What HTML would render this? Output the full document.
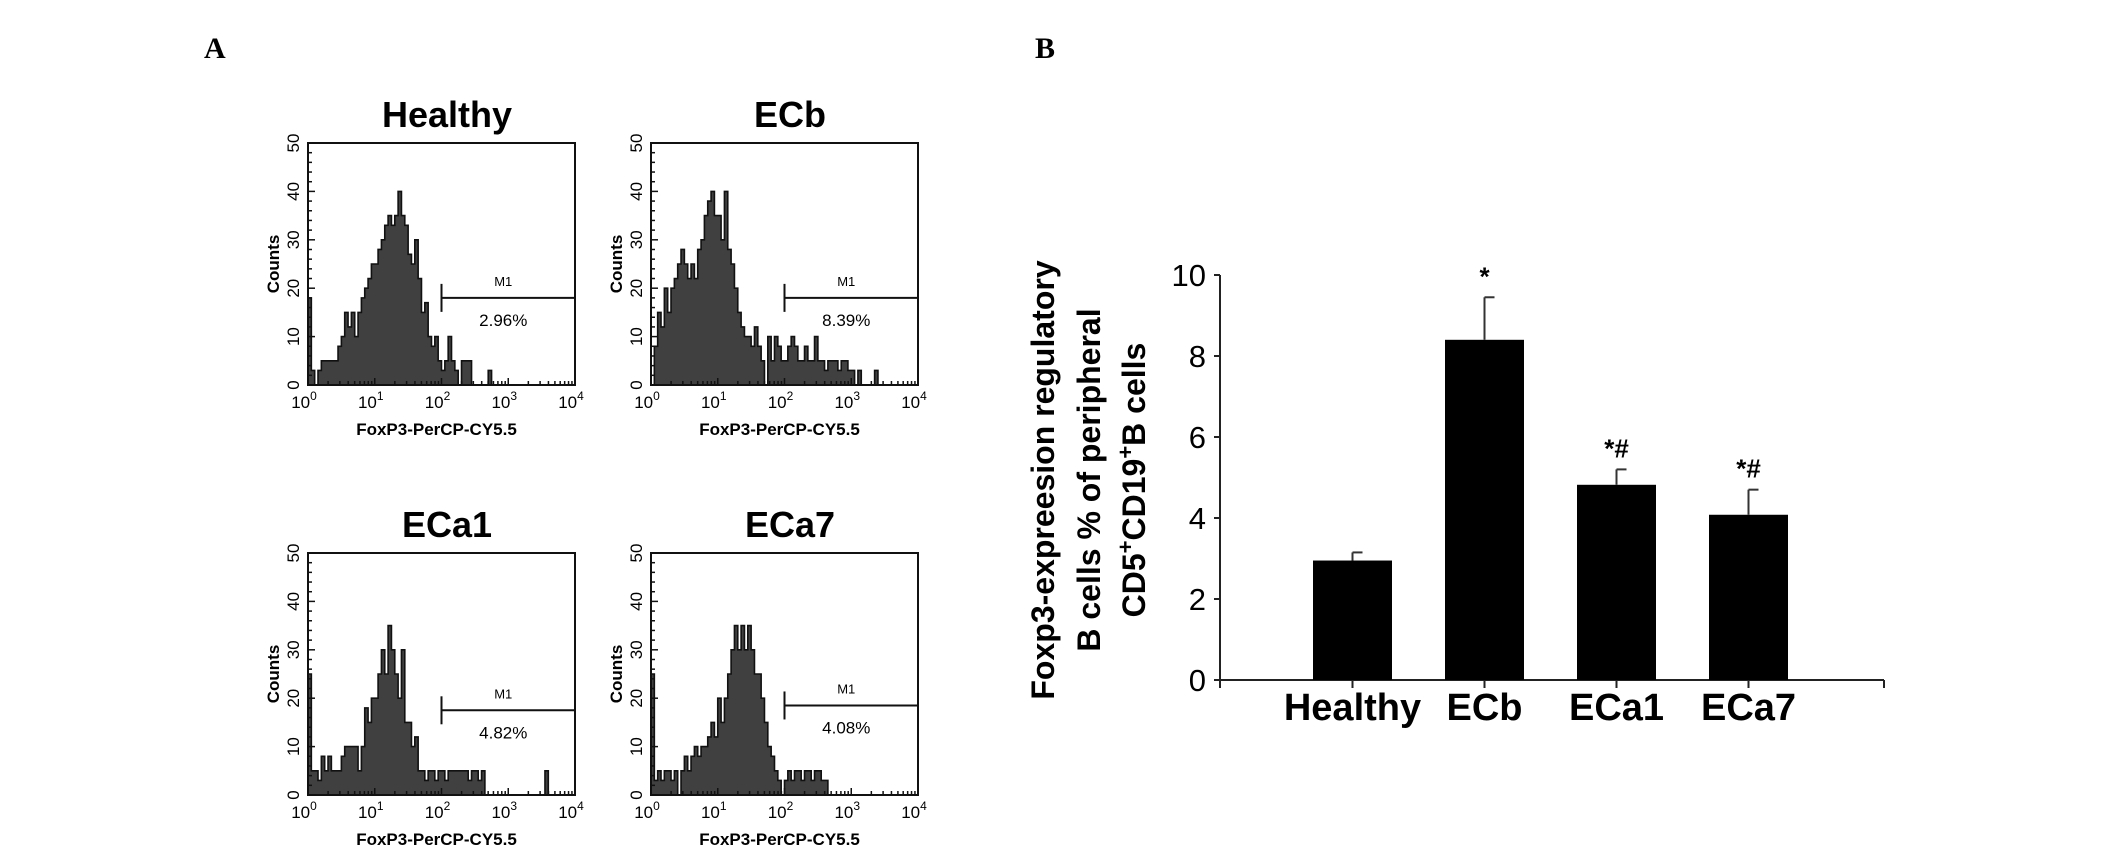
<!DOCTYPE html>
<html><head><meta charset="utf-8"><style>
html,body{margin:0;padding:0;background:#fff;}
svg{display:block;}
text{font-family:"Liberation Sans",Arial,sans-serif;}
.nar{font-family:"Liberation Sans Narrow","Liberation Sans",sans-serif;}
</style></head><body>
<svg id="fig" width="2126" height="862" viewBox="0 0 2126 862" xmlns="http://www.w3.org/2000/svg">
<text x="204" y="58" font-family="Liberation Serif,serif" font-weight="bold" font-size="30" style="font-family:'Liberation Serif',serif">A</text>
<text x="1035" y="58" font-weight="bold" font-size="30" style="font-family:'Liberation Serif',serif">B</text>
<g id="hists"></g>
<g id="bars"></g>
</svg>
<script>
// ---------- Histogram data (20 bins per decade, 10^0..10^4) ----------
const histTitles = ["Healthy","ECb","ECa1","ECa7"];
const histPercents = ["2.96%","8.39%","4.82%","4.08%"];
const healthyCounts = [18,3,0,3,5,5,5,5,5,8,10,15,12,15,10,15,18,20,22,25,
  25,28,30,33,35,33,35,40,35,33,27,25,30,22,15,17,10,8,10,5,
  3,5,10,5,3,0,5,5,5,0,0,0,0,0,3,0,0,0,0,0,
  0,0,0,0,0,0,0,0,0,0,0,0,0,0,0,0,0,0,0,0];
const ecbCounts = [0,8,15,12,20,15,20,22,25,28,25,22,25,22,28,30,35,38,40,35,
  35,30,40,28,25,20,15,12,10,10,8,12,8,5,0,10,5,10,8,5,
  5,8,10,8,5,5,8,5,5,10,5,5,3,5,5,5,3,5,5,3,
  3,0,3,0,0,0,0,3,0,0,0,0,0,0,0,0,0,0,0,0];
const eca1Counts = [25,5,5,3,8,5,8,5,5,5,8,10,10,10,10,5,10,18,15,20,
  20,25,30,25,35,30,25,20,30,15,15,10,12,5,5,3,5,5,3,5,
  5,3,5,5,5,5,5,5,3,5,5,3,5,0,0,0,0,0,0,0,
  0,0,0,0,0,0,0,0,0,0,0,5,0,0,0,0,0,0,0,0];
const eca7Counts = [25,3,5,3,5,5,3,5,0,5,8,5,8,10,8,10,10,12,15,12,
  20,15,20,25,30,35,30,35,30,35,30,25,25,20,15,10,8,5,3,0,
  3,5,3,5,5,3,5,5,3,5,5,3,3,0,0,0,0,0,0,0,
  0,0,0,0,0,0,0,0,0,0,0,0,0,0,0,0,0,0,0,0];
const histSeries = [healthyCounts, ecbCounts, eca1Counts, eca7Counts];
const histYTicks = [0,10,20,30,40,50];
const histXTicks = [0,1,2,3,4];
const markerCounts = [18,18,17.5,18.5];

// ---------- Bar chart data ----------
const barCategories = ["Healthy","ECb","ECa1","ECa7"];
const barValues = [2.95,8.4,4.82,4.08];
const barErrors = [0.2,1.05,0.38,0.62];
const barMarks = ["","*","*#","*#"];
const barYTicks = [0,2,4,6,8,10];

const NS="http://www.w3.org/2000/svg";
function mk(tag,attrs,parent,txt){const e=document.createElementNS(NS,tag);for(const k in attrs)e.setAttribute(k,attrs[k]);if(txt!==undefined)e.textContent=txt;parent.appendChild(e);return e;}

const hg=document.getElementById('hists');
const boxes=[[308,143],[651,143],[308,553],[651,553]];
const BW=267,BH=242,BINS=80;
histSeries.forEach((counts,i)=>{
  const [bx,by]=boxes[i];
  const g=mk('g',{},hg);
  
  
  const xs=d=>bx+d/4*BW;
  const ys=c=>by+BH-c/50*BH;
  const t=mk('text',{x:bx+139,y:by-16,'text-anchor':'middle','font-size':36,'font-weight':'bold'},g,histTitles[i]);
  
  
  // histogram step path
  let d='M'+xs(0)+','+ys(0);
  counts.forEach((c,k)=>{const x0=xs(k*4/BINS),x1=xs((k+1)*4/BINS);d+=' L'+x0+','+ys(c)+' L'+x1+','+ys(c);});
  d+=' L'+xs(4)+','+ys(0)+' Z';
  const p=mk('path',{d:d,fill:'#404040',stroke:'#111','stroke-width':1.6},g);
  
  
  const r=mk('rect',{x:bx,y:by,width:BW,height:BH,fill:'none',stroke:'#111','stroke-width':2},g);
  
  
  // y minor ticks
  for(let c=0;c<=50;c+=2){const L=c%10===0?7:4;mk('line',{x1:bx,x2:bx+L,y1:ys(c),y2:ys(c),stroke:'#111','stroke-width':1.5},g);}
  // x log ticks
  for(let dec=0;dec<4;dec++){for(let m=1;m<10;m++){const x=xs(dec+Math.log10(m));const L=m===1?7:4;mk('line',{x1:x,x2:x,y1:by+BH,y2:by+BH-L,stroke:'#111','stroke-width':1.5},g);}}
  histYTicks.forEach(v=>{const tt=mk('text',{x:0,y:0,'text-anchor':'middle','font-size':17,transform:'translate('+(bx-9)+','+ys(v)+') rotate(-90)'},g,String(v));});
  histXTicks.forEach(v=>{const tt=mk('text',{x:xs(v)-4,y:by+BH+23,'text-anchor':'middle','font-size':17,class:'nar'},g);mk('tspan',{},tt,'10');mk('tspan',{dy:-8,'font-size':12},tt,String(v));});
  const xt=mk('text',{x:bx+BW/2-5,y:by+BH+50,'text-anchor':'middle','font-size':17,'font-weight':'bold',class:'nar'},g,'FoxP3-PerCP-CY5.5');
  
  const yt=mk('text',{x:0,y:0,'text-anchor':'middle','font-size':17,'font-weight':'bold',transform:'translate('+(bx-29)+','+(by+BH/2)+') rotate(-90)'},g,'Counts');
  
  // M1 marker
  const my=ys(markerCounts[i]);
  const mg=mk('g',{stroke:'#111','stroke-width':2},g);
  
  mk('line',{x1:xs(2),x2:xs(4),y1:my,y2:my},mg);
  mk('line',{x1:xs(2),x2:xs(2),y1:my-14,y2:my+14},mg);
  const ml=mk('text',{x:xs(3)-5,y:my-12,'text-anchor':'middle','font-size':13,class:'nar'},g,'M1');
  
  const pl=mk('text',{x:xs(3)-5,y:my+28,'text-anchor':'middle','font-size':17,class:'nar'},g,histPercents[i]);
  
});

// ---------- Bar chart ----------
const bg=document.getElementById('bars');
const AX=1220,Y0=680,Y10=275,AXEND=1884;
const yv=v=>Y0-(v/10)*(Y0-Y10);
const BARW=79,FIRST=1313,STEP=132;
const xc=i=>FIRST+i*STEP+BARW/2;
const ax=mk('line',{x1:AX,x2:AX,y1:Y10,y2:Y0,stroke:'#222','stroke-width':2},bg);

const xa=mk('line',{x1:AX,x2:AXEND,y1:Y0,y2:Y0,stroke:'#222','stroke-width':2},bg);

mk('line',{x1:AXEND,x2:AXEND,y1:Y0,y2:Y0+8,stroke:'#222','stroke-width':2},bg);
mk('line',{x1:AX,x2:AX,y1:Y0,y2:Y0+8,stroke:'#222','stroke-width':2},bg);
barYTicks.forEach(v=>{
  mk('line',{x1:AX-6,x2:AX,y1:yv(v),y2:yv(v),stroke:'#222','stroke-width':2},bg);
  const t=mk('text',{x:AX-14,y:yv(v)+11,'text-anchor':'end','font-size':31,class:'nar'},bg,String(v));
  
});
barCategories.forEach((c,i)=>{
  const b=mk('rect',{x:FIRST+i*STEP,y:yv(barValues[i]),width:BARW,height:Y0-yv(barValues[i]),fill:'#000'},bg);
  
  mk('line',{x1:xc(i),x2:xc(i),y1:Y0,y2:Y0+8,stroke:'#222','stroke-width':2},bg);
  const top=yv(barValues[i]+barErrors[i]);
  const eg=mk('g',{stroke:'#333','stroke-width':2},bg);
  
  mk('line',{x1:xc(i),x2:xc(i),y1:yv(barValues[i]),y2:top},eg);
  mk('line',{x1:xc(i),x2:xc(i)+10,y1:top,y2:top},eg);
  if(barMarks[i]){const s=mk('text',{x:xc(i),y:top-12,'text-anchor':'middle','font-size':26,'font-weight':'bold'},bg,barMarks[i]);}
  const l=mk('text',{x:xc(i),y:720,'text-anchor':'middle','font-size':38,'font-weight':'bold'},bg,c);
  
});
const yl=mk('text',{x:0,y:0,'text-anchor':'middle','font-size':32,'font-weight':'bold',transform:'translate(1090,480) rotate(-90)'},bg);

mk('tspan',{x:0,y:-36},yl,'Foxp3-expreesion regulatory');
mk('tspan',{x:0,y:10},yl,'B cells % of peripheral');
const t3=mk('tspan',{x:0,y:55},yl,'CD5');
mk('tspan',{dy:-12,'font-size':22},yl,'+');
mk('tspan',{dy:12},yl,'CD19');
mk('tspan',{dy:-12,'font-size':22},yl,'+');
mk('tspan',{dy:12},yl,'B cells');
</script>
</body></html>
